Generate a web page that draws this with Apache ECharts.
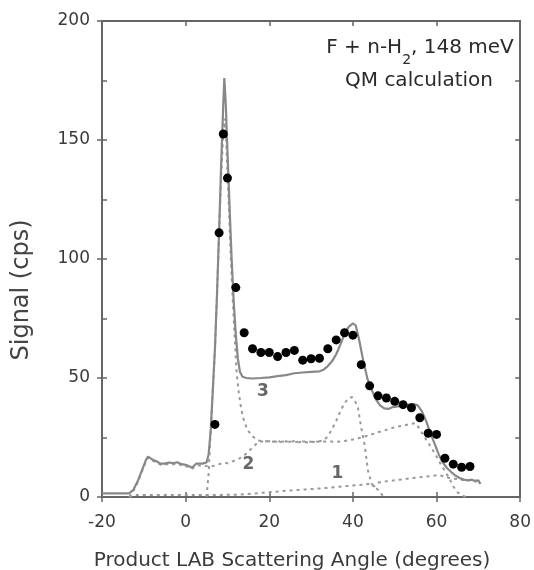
<!DOCTYPE html>
<html>
<head>
<meta charset="utf-8">
<script src="https://cdn.jsdelivr.net/npm/echarts@6/dist/echarts.min.js"></script>
<style>html,body{margin:0;padding:0;background:#fff;}#chart{width:534px;height:570px;}</style>
</head>
<body>
<div id="chart"></div>
<script>
// ---- Data (angle in degrees, signal in cps) ----
const measuredAngle = [7, 8, 9, 10, 12, 14, 16, 18, 20, 22, 24, 26, 28, 30, 32, 34, 36, 38, 40, 42, 44, 46, 48, 50, 52, 54, 56, 58, 60, 62, 64, 66, 68];
const measuredSignal = [30.5, 111, 152.5, 134, 88, 69, 62.3, 60.7, 60.7, 59, 60.7, 61.6, 57.5, 58.1, 58.3, 62.3, 66, 69, 68, 55.6, 46.7, 42.5, 41.6, 40.2, 38.8, 37.5, 33.3, 26.8, 26.3, 16.3, 13.8, 12.5, 12.8];

const totalCurve = [[-20,1.5],[-13.5,1.5],[-12.5,3],[-11.5,6.5],[-10.5,11],[-9.5,15.5],[-9,17],[-8,15.8],[-7,15],[-6,14],[-5,14],[-4,14.5],[-3,14.2],[-2,14.6],[-1,13.8],[0,13.5],[1,12.8],[1.5,12.3],[2.5,14],[4,14],[5,14.5],[5.5,18],[6,28],[6.5,45],[7,62],[7.5,85],[8,112],[8.5,140],[9,165],[9.25,176],[9.6,165],[10,145],[10.5,122],[11,100],[11.5,82],[12,68],[12.5,58],[13,52.5],[13.6,50.5],[14.5,50],[16,49.8],[18,50],[20,50.3],[22,50.8],[24,51.2],[26,52],[28,52.3],[30,52.6],[32,52.8],[33,53.5],[34,55],[35,57],[36,60],[37,64],[38,68.5],[39,71.5],[40,73],[40.7,72],[41.5,66],[42.5,57],[43.5,49.5],[44.5,45],[45.5,41],[46.5,38.5],[47.5,37.2],[48.5,37],[49.5,37.8],[51.5,38.3],[53.5,38.8],[54.5,39],[55.5,38.5],[56.5,36],[57.5,32],[58.5,27],[59.5,22.5],[60.5,18],[61.5,14.5],[62.5,12.2],[63.5,10.5],[64.5,9],[65.5,8],[66.5,7.3],[67.5,7],[68.5,7.3],[69.3,6.5],[70,7],[70.5,5.5]];

const v3Curve = [[5,0],[5.5,10],[6,28],[6.5,45],[7,62],[7.5,85],[8,110],[8.5,135],[9,153],[9.3,159],[9.7,150],[10.2,128],[10.7,105],[11.2,85],[11.7,68],[12.2,52],[12.7,44],[13.2,38],[13.7,33.5],[14.7,28.5],[15.7,26],[16.7,24.5],[17.7,23.6],[18.7,23.2],[20,23.6],[21,23.2],[22,23.8],[23,22.8],[24,23.4],[25,23],[26,23.6],[27,23],[28,23.4],[29,22.9],[30,23.3],[31,23.1],[32,23.4],[33,23.8],[34,25.5],[35,28.5],[36,32],[37,36],[38,39.5],[39,41.5],[39.8,42],[40.6,40],[41.2,37.5],[42,29],[42.8,22],[43.6,11],[44.5,5.5],[46,3],[47.4,0]];

const v2Curve = [[-13.5,0],[-12.5,2.5],[-11.5,6],[-10.5,10.5],[-9.5,15],[-9,16.5],[-8,15.3],[-7,14.5],[-6,13.6],[-5,13.5],[-4,14],[-3,13.7],[-2,14.1],[-1,13.3],[0,13],[1,12.3],[1.5,11.8],[2.5,13.2],[4,13.3],[5,13],[6,12.8],[7,13.2],[8,13.8],[9,14.3],[10,14.2],[11,14.8],[12,15.5],[13,16.3],[14,17.5],[15,19],[16,20.8],[17,22.5],[18,23.3],[20,23.4],[22,23.2],[24,23.3],[26,23.1],[28,23.3],[30,23.2],[32,23.3],[34,23.3],[36,23.2],[38,23.5],[40,24.2],[42,25],[44,26],[46,27.2],[48,28.2],[50,29.3],[52,30],[54,30.8],[55,31],[56,28.5],[57,25.5],[58,22.8],[59,20],[60,17],[61,13.8],[62,11],[63,8],[64,4.5],[65,2],[66,0.8],[67,0]];

const v1Curve = [[-13.5,0],[-12.5,0.8],[-5,0.8],[5,0.8],[10,0.9],[13,1],[15,1.3],[18.5,1.8],[22.5,2.4],[26.5,2.9],[30.5,3.4],[34.5,3.9],[38.5,4.6],[42.5,5.2],[44,5.6],[45,4.4],[46,6],[47,6.4],[49.5,6.9],[53.5,7.8],[57,8.5],[60.5,9.2],[62,8.6],[63,8],[65,7.5],[67,7],[68,7],[69,7.3],[70,6.5],[70.5,5.5]];

const curveLabels = [[18.5, 44.5, '3'], [15, 13.5, '2'], [36.3, 10, '1']];

const xMin = -20, xMax = 80, xStep = 20;
const yMin = 0, yMax = 200, yStep = 50, yMinorStep = 25;

const FONT = 'DejaVu Sans';
const AXIS_COLOR = '#666666';

const chart = echarts.init(document.getElementById('chart'), null, {renderer: 'canvas'});

const baseX = {type: 'value', min: xMin, max: xMax, interval: xStep, splitLine: {show: false}};
const baseY = {type: 'value', min: yMin, max: yMax, splitLine: {show: false}};

const option = {
  backgroundColor: '#ffffff',
  animation: false,
  grid: {left: 102, right: 13, top: 21, bottom: 73, containLabel: false},
  xAxis: [
    Object.assign({}, baseX, {
      position: 'bottom',
      axisLine: {show: true, onZero: false, lineStyle: {color: AXIS_COLOR, width: 2}},
      axisTick: {show: true, inside: false, length: 5, lineStyle: {color: AXIS_COLOR, width: 1.5}},
      axisLabel: {show: true, margin: 17, color: '#3a3a3a', fontFamily: FONT, fontSize: 17}
    }),
    Object.assign({}, baseX, {
      position: 'bottom',
      axisLine: {show: false, onZero: false},
      axisTick: {show: true, inside: true, length: 5, lineStyle: {color: AXIS_COLOR, width: 1.5}},
      axisLabel: {show: false}
    }),
    Object.assign({}, baseX, {
      position: 'top',
      axisLine: {show: true, onZero: false, lineStyle: {color: AXIS_COLOR, width: 2}},
      axisTick: {show: true, inside: true, length: 5, lineStyle: {color: AXIS_COLOR, width: 1.5}},
      axisLabel: {show: false}
    })
  ],
  yAxis: [
    Object.assign({}, baseY, {
      position: 'left', interval: yMinorStep,
      axisLine: {show: true, onZero: false, lineStyle: {color: AXIS_COLOR, width: 2}},
      axisTick: {show: true, inside: true, length: 5, lineStyle: {color: AXIS_COLOR, width: 1.5}},
      axisLabel: {show: true, margin: 12, color: '#3a3a3a', fontFamily: FONT, fontSize: 17,
        formatter: function (v) { return (v % yStep === 0) ? String(v) : ''; }}
    }),
    Object.assign({}, baseY, {
      position: 'left', interval: yStep, offset: 0,
      axisLine: {show: false, onZero: false},
      axisTick: {show: true, inside: false, length: 5, lineStyle: {color: AXIS_COLOR, width: 1.5}},
      axisLabel: {show: false}
    }),
    Object.assign({}, baseY, {
      position: 'right', interval: yMinorStep, offset: 0,
      axisLine: {show: true, onZero: false, lineStyle: {color: AXIS_COLOR, width: 2}},
      axisTick: {show: true, inside: true, length: 5, lineStyle: {color: AXIS_COLOR, width: 1.5}},
      axisLabel: {show: false}
    })
  ],
  series: [
    {
      name: 'v1', type: 'line', data: v1Curve, showSymbol: false, symbol: 'none',
      lineStyle: {color: '#999999', width: 2, type: [3, 4]}, z: 2
    },
    {
      name: 'v2', type: 'line', data: v2Curve, showSymbol: false, symbol: 'none',
      lineStyle: {color: '#999999', width: 2, type: [3, 4]}, z: 2
    },
    {
      name: 'v3', type: 'line', data: v3Curve, showSymbol: false, symbol: 'none',
      lineStyle: {color: '#999999', width: 2, type: [3, 4]}, z: 2
    },
    {
      name: 'total', type: 'line', data: totalCurve, showSymbol: false, symbol: 'none',
      lineStyle: {color: '#888888', width: 2.2}, z: 3
    },
    {
      name: 'measured', type: 'scatter',
      data: measuredAngle.map(function (a, i) { return [a, measuredSignal[i]]; }),
      symbol: 'circle', symbolSize: 9,
      itemStyle: {color: '#000000', opacity: 1}, z: 5
    },
    {
      name: 'labels', type: 'scatter', data: curveLabels,
      symbolSize: 1, itemStyle: {color: 'rgba(0,0,0,0)', opacity: 1},
      label: {show: true, position: 'inside', formatter: function (p) { return p.value[2]; },
        color: '#666666', opacity: 1, fontFamily: FONT, fontSize: 17, fontWeight: 'bold'}, z: 4
    }
  ],
  graphic: [
    {
      type: 'text', x: 420, y: 29,
      style: {
        text: '{n|F + n-H}{s|2}{n|, 148 meV}',
        textAlign: 'center', align: 'center', textVerticalAlign: 'top', verticalAlign: 'top',
        rich: {
          n: {fontFamily: FONT, fontSize: 20, fill: '#2a2a2a', color: '#2a2a2a', lineHeight: 38, verticalAlign: 'middle'},
          s: {fontFamily: FONT, fontSize: 14, fill: '#2a2a2a', color: '#2a2a2a', lineHeight: 38, verticalAlign: 'bottom'}
        }
      }
    },
    {
      type: 'text', x: 419, y: 81,
      style: {text: 'QM calculation', font: '20px "DejaVu Sans"', fill: '#2a2a2a',
        textAlign: 'center', align: 'center', textVerticalAlign: 'middle', verticalAlign: 'middle'}
    },
    {
      type: 'text', x: 292, y: 561,
      style: {text: 'Product LAB Scattering Angle (degrees)', font: '20px "DejaVu Sans"', fill: '#3a3a3a',
        textAlign: 'center', align: 'center', textVerticalAlign: 'middle', verticalAlign: 'middle'}
    },
    {
      type: 'text', x: 22, y: 290, rotation: Math.PI / 2,
      style: {text: 'Signal (cps)', font: '24px "DejaVu Sans"', fill: '#444',
        textAlign: 'center', align: 'center', textVerticalAlign: 'middle', verticalAlign: 'middle'}
    }
  ]
};
chart.setOption(option);
</script>
</body>
</html>
